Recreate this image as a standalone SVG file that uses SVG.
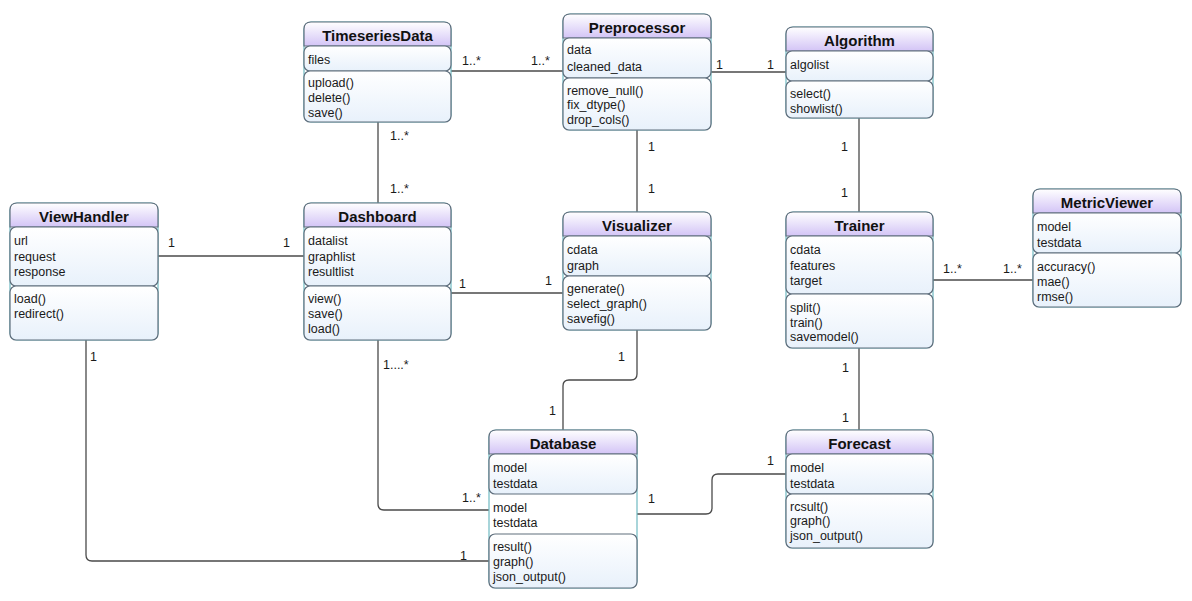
<svg xmlns="http://www.w3.org/2000/svg" width="1192" height="601" viewBox="0 0 1192 601">
  <defs>
    <linearGradient id="hdr" x1="0" y1="0" x2="0" y2="1">
      <stop offset="0" stop-color="#ffffff"/>
      <stop offset="1" stop-color="#d3c4f6"/>
    </linearGradient>
    <linearGradient id="cmp" x1="0" y1="0" x2="0" y2="1">
      <stop offset="0" stop-color="#ffffff"/>
      <stop offset="1" stop-color="#e8f1fb"/>
    </linearGradient>
  </defs>
  <style>
    .outer { fill: #ffffff; stroke: #6fb9c2; stroke-width: 1.2; }
    .head { fill: url(#hdr); stroke: #5e6e7c; stroke-width: 1.2; }
    .comp { fill: url(#cmp); stroke: #5e6e7c; stroke-width: 1.2; }
    .title { font-family: "Liberation Sans", Arial, sans-serif; font-size: 15px; font-weight: bold; fill: #111; text-anchor: middle; }
    .t { font-family: "Liberation Sans", Arial, sans-serif; font-size: 12.5px; fill: #1a1a1a; }
    .conn { fill: none; stroke: #4a4a4a; stroke-width: 1.3; }
    .lbl { font-family: "Liberation Sans", Arial, sans-serif; font-size: 12.5px; fill: #1a1a1a; }
  </style>
  <rect width="1192" height="601" fill="#ffffff"/>

  <!-- associations -->
  <g id="connectors">
    <path class="conn" d="M451,71 H563"/>
    <path class="conn" d="M711,72 H786"/>
    <path class="conn" d="M378,122 V203"/>
    <path class="conn" d="M637,130 V212"/>
    <path class="conn" d="M859,118 V212"/>
    <path class="conn" d="M158,256 H304"/>
    <path class="conn" d="M451,293 H563"/>
    <path class="conn" d="M933,280 H1033"/>
    <path class="conn" d="M637,330 V374 Q637,380 631,380 H569 Q563,380 563,386 V430"/>
    <path class="conn" d="M859,348 V430"/>
    <path class="conn" d="M378,340 V504 Q378,510 384,510 H489"/>
    <path class="conn" d="M86,340 V555 Q86,561 92,561 H489"/>
    <path class="conn" d="M637,514 H706 Q712,514 712,508 V480 Q712,474 718,474 H786"/>
    <text class="lbl" x="462" y="65">1..*</text>
    <text class="lbl" x="531" y="65">1..*</text>
    <text class="lbl" x="716" y="69">1</text>
    <text class="lbl" x="767" y="69">1</text>
    <text class="lbl" x="390" y="140">1..*</text>
    <text class="lbl" x="390" y="193">1..*</text>
    <text class="lbl" x="648" y="151">1</text>
    <text class="lbl" x="648" y="193">1</text>
    <text class="lbl" x="841" y="151">1</text>
    <text class="lbl" x="841" y="197">1</text>
    <text class="lbl" x="168" y="247">1</text>
    <text class="lbl" x="283" y="247">1</text>
    <text class="lbl" x="459" y="288">1</text>
    <text class="lbl" x="545" y="285">1</text>
    <text class="lbl" x="943" y="273">1..*</text>
    <text class="lbl" x="1003" y="273">1..*</text>
    <text class="lbl" x="618" y="361">1</text>
    <text class="lbl" x="549" y="415">1</text>
    <text class="lbl" x="842" y="372">1</text>
    <text class="lbl" x="842" y="422">1</text>
    <text class="lbl" x="383" y="369">1....*</text>
    <text class="lbl" x="462" y="502">1..*</text>
    <text class="lbl" x="90" y="361">1</text>
    <text class="lbl" x="460" y="560">1</text>
    <text class="lbl" x="648" y="503">1</text>
    <text class="lbl" x="767" y="465">1</text>
  </g>

  <g id="TimeseriesData">
    <rect class="outer" x="304" y="22" width="147" height="100" rx="7"/>
    <path class="head" d="M304,46 V29 Q304,22 311,22 H444 Q451,22 451,29 V46 Z"/>
    <text class="title" x="377.5" y="41">TimeseriesData</text>
    <rect class="comp" x="304" y="46" width="147" height="25" rx="6"/>
    <text class="t" x="308" y="64">files</text>
    <rect class="comp" x="304" y="71" width="147" height="51" rx="6"/>
    <text class="t" x="308" y="87">upload()</text>
    <text class="t" x="308" y="102">delete()</text>
    <text class="t" x="308" y="117">save()</text>
  </g>

  <g id="Preprocessor">
    <rect class="outer" x="563" y="14" width="148" height="116" rx="7"/>
    <path class="head" d="M563,38 V21 Q563,14 570,14 H704 Q711,14 711,21 V38 Z"/>
    <text class="title" x="637" y="33">Preprocessor</text>
    <rect class="comp" x="563" y="38" width="148" height="40" rx="6"/>
    <text class="t" x="567" y="54">data</text>
    <text class="t" x="567" y="71">cleaned_data</text>
    <rect class="comp" x="563" y="78" width="148" height="52" rx="6"/>
    <text class="t" x="567" y="95">remove_null()</text>
    <text class="t" x="567" y="109">fix_dtype()</text>
    <text class="t" x="567" y="124">drop_cols()</text>
  </g>

  <g id="Algorithm">
    <rect class="outer" x="786" y="27" width="147" height="91" rx="7"/>
    <path class="head" d="M786,51 V34 Q786,27 793,27 H926 Q933,27 933,34 V51 Z"/>
    <text class="title" x="859.5" y="46">Algorithm</text>
    <rect class="comp" x="786" y="51" width="147" height="30" rx="6"/>
    <text class="t" x="790" y="69">algolist</text>
    <rect class="comp" x="786" y="81" width="147" height="37" rx="6"/>
    <text class="t" x="790" y="98">select()</text>
    <text class="t" x="790" y="113">showlist()</text>
  </g>

  <g id="ViewHandler">
    <rect class="outer" x="10" y="203" width="148" height="137" rx="7"/>
    <path class="head" d="M10,227 V210 Q10,203 17,203 H151 Q158,203 158,210 V227 Z"/>
    <text class="title" x="84" y="222">ViewHandler</text>
    <rect class="comp" x="10" y="227" width="148" height="59" rx="6"/>
    <text class="t" x="14" y="245">url</text>
    <text class="t" x="14" y="261">request</text>
    <text class="t" x="14" y="276">response</text>
    <rect class="comp" x="10" y="286" width="148" height="54" rx="6"/>
    <text class="t" x="14" y="303">load()</text>
    <text class="t" x="14" y="318">redirect()</text>
  </g>

  <g id="Dashboard">
    <rect class="outer" x="304" y="203" width="147" height="137" rx="7"/>
    <path class="head" d="M304,227 V210 Q304,203 311,203 H444 Q451,203 451,210 V227 Z"/>
    <text class="title" x="377.5" y="222">Dashboard</text>
    <rect class="comp" x="304" y="227" width="147" height="59" rx="6"/>
    <text class="t" x="308" y="245">datalist</text>
    <text class="t" x="308" y="261">graphlist</text>
    <text class="t" x="308" y="276">resultlist</text>
    <rect class="comp" x="304" y="286" width="147" height="54" rx="6"/>
    <text class="t" x="308" y="303">view()</text>
    <text class="t" x="308" y="318">save()</text>
    <text class="t" x="308" y="333">load()</text>
  </g>

  <g id="Visualizer">
    <rect class="outer" x="563" y="212" width="148" height="118" rx="7"/>
    <path class="head" d="M563,236 V219 Q563,212 570,212 H704 Q711,212 711,219 V236 Z"/>
    <text class="title" x="637" y="231">Visualizer</text>
    <rect class="comp" x="563" y="236" width="148" height="40" rx="6"/>
    <text class="t" x="567" y="254">cdata</text>
    <text class="t" x="567" y="270">graph</text>
    <rect class="comp" x="563" y="276" width="148" height="54" rx="6"/>
    <text class="t" x="567" y="293">generate()</text>
    <text class="t" x="567" y="308">select_graph()</text>
    <text class="t" x="567" y="323">savefig()</text>
  </g>

  <g id="Trainer">
    <rect class="outer" x="786" y="212" width="147" height="136" rx="7"/>
    <path class="head" d="M786,236 V219 Q786,212 793,212 H926 Q933,212 933,219 V236 Z"/>
    <text class="title" x="859.5" y="231">Trainer</text>
    <rect class="comp" x="786" y="236" width="147" height="58" rx="6"/>
    <text class="t" x="790" y="254">cdata</text>
    <text class="t" x="790" y="270">features</text>
    <text class="t" x="790" y="285">target</text>
    <rect class="comp" x="786" y="294" width="147" height="54" rx="6"/>
    <text class="t" x="790" y="312">split()</text>
    <text class="t" x="790" y="327">train()</text>
    <text class="t" x="790" y="341">savemodel()</text>
  </g>

  <g id="MetricViewer">
    <rect class="outer" x="1033" y="189" width="148" height="118" rx="7"/>
    <path class="head" d="M1033,213 V196 Q1033,189 1040,189 H1174 Q1181,189 1181,196 V213 Z"/>
    <text class="title" x="1107" y="208">MetricViewer</text>
    <rect class="comp" x="1033" y="213" width="148" height="40" rx="6"/>
    <text class="t" x="1037" y="231">model</text>
    <text class="t" x="1037" y="247">testdata</text>
    <rect class="comp" x="1033" y="253" width="148" height="54" rx="6"/>
    <text class="t" x="1037" y="271">accuracy()</text>
    <text class="t" x="1037" y="286">mae()</text>
    <text class="t" x="1037" y="301">rmse()</text>
  </g>

  <g id="Database">
    <rect class="outer" x="489" y="430" width="148" height="158" rx="7"/>
    <path class="head" d="M489,454 V437 Q489,430 496,430 H630 Q637,430 637,437 V454 Z"/>
    <text class="title" x="563" y="449">Database</text>
    <rect class="comp" x="489" y="454" width="148" height="40" rx="6"/>
    <text class="t" x="493" y="472">model</text>
    <text class="t" x="493" y="488">testdata</text>
    <text class="t" x="493" y="512">model</text>
    <text class="t" x="493" y="527">testdata</text>
    <rect class="comp" x="489" y="534" width="148" height="54" rx="6"/>
    <text class="t" x="493" y="551">result()</text>
    <text class="t" x="493" y="566">graph()</text>
    <text class="t" x="493" y="581">json_output()</text>
  </g>

  <g id="Forecast">
    <rect class="outer" x="786" y="430" width="147" height="118" rx="7"/>
    <path class="head" d="M786,454 V437 Q786,430 793,430 H926 Q933,430 933,437 V454 Z"/>
    <text class="title" x="859.5" y="449">Forecast</text>
    <rect class="comp" x="786" y="454" width="147" height="40" rx="6"/>
    <text class="t" x="790" y="472">model</text>
    <text class="t" x="790" y="488">testdata</text>
    <rect class="comp" x="786" y="494" width="147" height="54" rx="6"/>
    <text class="t" x="790" y="511">rcsult()</text>
    <text class="t" x="790" y="525">graph()</text>
    <text class="t" x="790" y="540">json_output()</text>
  </g>
</svg>
